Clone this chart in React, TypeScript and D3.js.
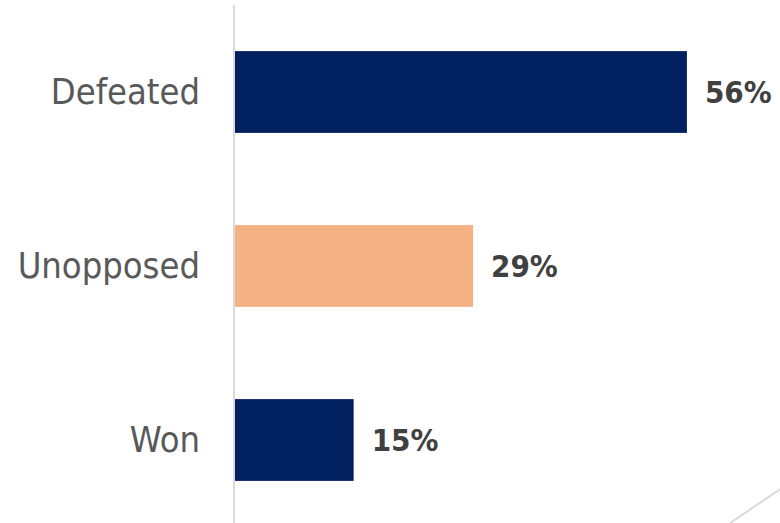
import React from "react";
import * as d3 from "d3";

const categories = ["Defeated", "Unopposed", "Won"];
const values = [56, 29.5, 14.7];
const valueLabels = ["56%", "29%", "15%"];
const colors = ["#002060", "#F4B183", "#002060"];

const W = 780;
const H = 523;

export default function App() {
  const x = d3.scaleLinear().domain([0, 100]).range([235, 235 + 807]);
  const y = d3.scaleBand<string>().domain(categories).range([5, 527]).paddingInner(0.53).paddingOuter(0.265);
  const font = "'DejaVu Sans Condensed', 'DejaVu Sans', sans-serif";
  return (
    <div style={{ position: "fixed", left: 0, top: 0 }}>
      <svg width={W} height={H} style={{ display: "block", background: "#fff" }}>
        {categories.map((c, i) => {
          const y0 = y(c)!;
          const bw = y.bandwidth();
          const cy = y0 + bw / 2;
          return (
            <g key={c}>
              <rect x={x(0)} y={y0} width={x(values[i]) - x(0)} height={bw} fill={colors[i]} />
              <text x={200} y={cy + 12} textAnchor="end" fontFamily={font} fontSize={36} fill="#595959" style={{ fontStretch: "condensed" }}>
                {c}
              </text>
              <text x={x(values[i]) + 18} y={cy + 11} textAnchor="start" fontFamily={font} fontSize={31} fontWeight="bold" fill="#404040" style={{ fontStretch: "condensed" }}>
                {valueLabels[i]}
              </text>
            </g>
          );
        })}
        <line x1={234} x2={234} y1={5} y2={523} stroke="#d9d9d9" strokeWidth={2} />
        <line x1={730} y1={523} x2={782} y2={488} stroke="#d9d9d9" strokeWidth={2} />
      </svg>
    </div>
  );
}
